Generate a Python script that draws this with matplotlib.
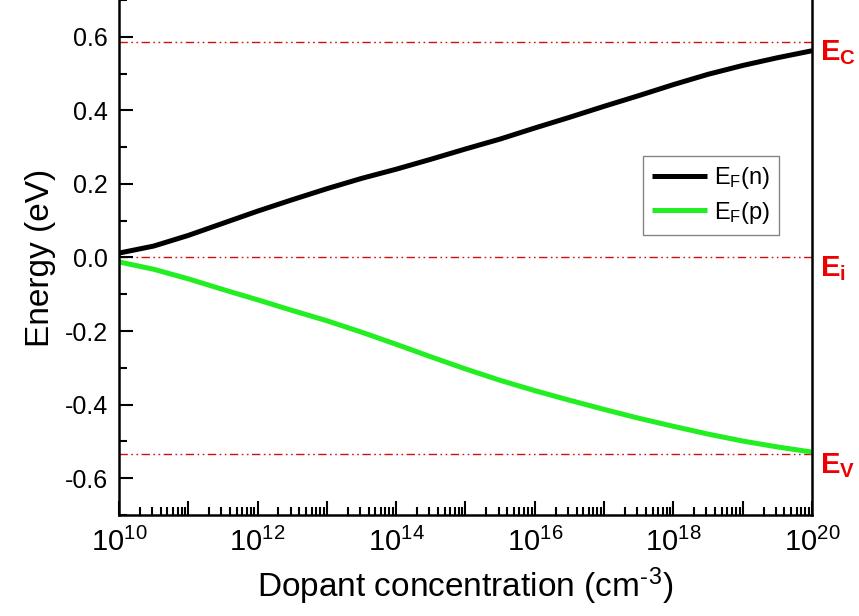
import matplotlib
matplotlib.use('Agg')
import matplotlib.pyplot as plt
import numpy as np

plt.rcParams['font.family'] = 'Liberation Sans'
plt.rcParams['mathtext.fontset'] = 'custom'
plt.rcParams['mathtext.rm'] = 'Liberation Sans'
plt.rcParams['mathtext.it'] = 'Liberation Sans'
plt.rcParams['mathtext.bf'] = 'Liberation Sans:bold'

# dopant concentration (cm^-3), half-decade steps, and Fermi levels
log_conc = [10.0, 10.5, 11.0, 11.5, 12.0, 12.5, 13.0, 13.5, 14.0, 14.5, 15.0,
            15.5, 16.0, 16.5, 17.0, 17.5, 18.0, 18.5, 19.0, 19.5, 20.0]
ef_n = [0.012, 0.031, 0.060, 0.093, 0.126, 0.157, 0.187, 0.215, 0.240, 0.267, 0.295,
        0.322, 0.352, 0.381, 0.411, 0.440, 0.470, 0.498, 0.522, 0.543, 0.562]
ef_p = [-0.012, -0.032, -0.058, -0.087, -0.115, -0.144, -0.172, -0.203, -0.236, -0.270, -0.303,
        -0.334, -0.362, -0.388, -0.413, -0.437, -0.459, -0.480, -0.499, -0.515, -0.529]
conc = [10.0 ** v for v in log_conc]

# band levels
E_c = 0.586
E_i = 0.0
E_v = -0.535

fig = plt.figure(figsize=(8.59, 6.16), dpi=100)
ax = fig.add_axes([0.1385, 0.164, 0.8068, 0.836])

red = '#d01010'
dashdotdot = (0, (6, 2.5, 1.2, 2.5, 1.2, 2.5))
for lvl in [E_c, E_i, E_v]:
    ax.axhline(lvl, color=red, lw=1.0, ls=dashdotdot, zorder=1)

ax.plot(conc, ef_n, color='black', lw=3.6, label=r'E$_\mathrm{F}$(n)', solid_capstyle='butt')
ax.plot(conc, ef_p, color='#22ee22', lw=3.6, label=r'E$_\mathrm{F}$(p)', solid_capstyle='butt')

ax.set_xscale('log')
ax.set_xlim(1e10, 1e20)
ax.set_ylim(-0.7, 0.7)

exps = list(range(10, 21))
ax.set_xticks([10.0 ** k for k in exps])
ax.set_xticklabels([r'$10^{%d}$' % k if k % 2 == 0 else '' for k in exps], fontsize=21)
ax.xaxis.set_minor_locator(matplotlib.ticker.LogLocator(base=10.0, subs=np.arange(2, 10), numticks=20))
ax.xaxis.set_minor_formatter(matplotlib.ticker.NullFormatter())

ax.set_yticks([-0.6, -0.4, -0.2, 0.0, 0.2, 0.4, 0.6])
ax.set_yticklabels(['-0.6', '-0.4', '-0.2', '0.0', '0.2', '0.4', '0.6'], fontsize=18)
ax.set_yticks(np.arange(-0.7, 0.71, 0.1), minor=True)

ax.tick_params(which='both', direction='in', width=1.5, pad=8)
ax.tick_params(which='major', length=10)
ax.tick_params(which='minor', length=6)
ax.tick_params(axis='y', right=False, which='both')
ax.tick_params(axis='x', top=False, which='both', pad=9)

ax.spines['top'].set_visible(False)
for s in ['left', 'bottom', 'right']:
    ax.spines[s].set_linewidth(1.8)

ax.set_xlabel('Dopant concentration (cm$^{\u2010}$$^{3}$)', fontsize=24, labelpad=6)
ax.set_ylabel('Energy (eV)', fontsize=24, labelpad=6)

# band labels on the right
for lvl, lab in [(E_c, r'$\mathbf{E_C}$'), (E_i, r'$\mathbf{E_i}$'), (E_v, r'$\mathbf{E_V}$')]:
    ax.annotate(lab, xy=(1.0, lvl), xycoords=('axes fraction', 'data'),
                xytext=(6, -8), textcoords='offset points',
                color='#ee0000', fontsize=21, va='center', ha='left')

leg = ax.legend(loc='upper left', bbox_to_anchor=(0.756, 0.697), fontsize=17,
                frameon=True, fancybox=False, handlelength=2.3, borderpad=0.4,
                labelspacing=0.35, handletextpad=0.3, borderaxespad=0)
leg.get_frame().set_edgecolor('#666666')
leg.get_frame().set_linewidth(1.0)

fig.savefig('out.png', dpi=100)
